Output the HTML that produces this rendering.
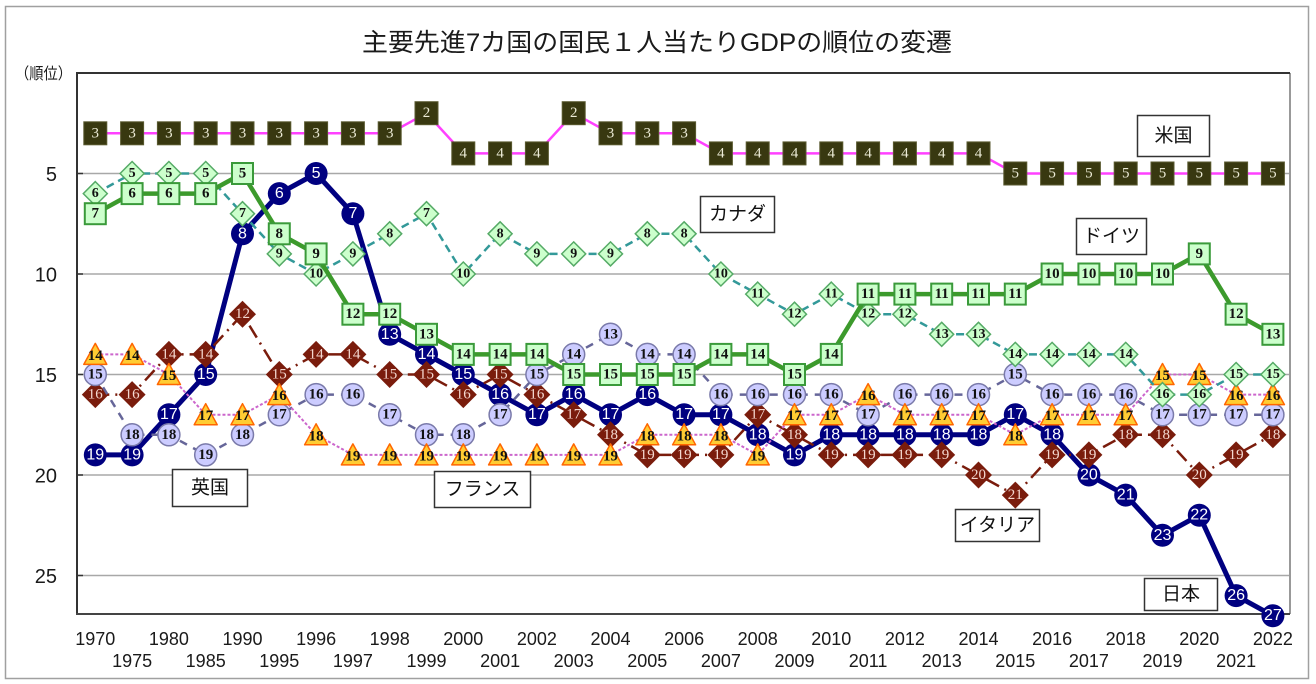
<!DOCTYPE html>
<html><head><meta charset="utf-8">
<style>
html,body{margin:0;padding:0;background:#fff;}
svg{display:block;}
.ax text{font-family:"Liberation Sans",sans-serif;fill:#1a1a1a;}
.jp text{font:16px "Liberation Sans",sans-serif;fill:#fff;text-anchor:middle;dominant-baseline:central;}
.it text{font:15px "Liberation Serif",serif;fill:#f4d8d0;text-anchor:middle;dominant-baseline:central;}
.uk text{font:bold 15px "Liberation Serif",serif;fill:#111;text-anchor:middle;dominant-baseline:central;}
.fr text{font:bold 15px "Liberation Serif",serif;fill:#111;text-anchor:middle;dominant-baseline:central;}
.ca text{font:bold 14px "Liberation Serif",serif;fill:#111;text-anchor:middle;dominant-baseline:central;}
.de text{font:bold 15px "Liberation Serif",serif;fill:#111;text-anchor:middle;dominant-baseline:central;}
.us text{font:15px "Liberation Serif",serif;fill:#ecebd6;text-anchor:middle;dominant-baseline:central;}
.lb text{font:19px "Liberation Sans","Noto Sans CJK JP",sans-serif;fill:#111;text-anchor:middle;dominant-baseline:central;}
</style></head>
<body>
<svg width="1316" height="684" viewBox="0 0 1316 684" xmlns="http://www.w3.org/2000/svg">
<defs>
<rect id="mus" x="-11.5" y="-11.5" width="23" height="23" fill="#383810" stroke="#5a5a30" stroke-width="1"/>
<rect id="mde" x="-10.5" y="-10.5" width="21" height="21" fill="#ccffcc" stroke="#3a9a3a" stroke-width="2"/>
<polygon id="mca" points="0,-12 12,0 0,12 -12,0" fill="#ccffcc" stroke="#55aa66" stroke-width="1.5"/>
<circle id="mjp" r="11.5" fill="#000080"/>
<circle id="muk" r="11" fill="#ccccff" stroke="#7a7aaa" stroke-width="1.5"/>
<polygon id="mfr" points="0,-11 11.5,10 -11.5,10" fill="#ffcc33" stroke="#ff6600" stroke-width="1.5" stroke-linejoin="round"/>
<polygon id="mit" points="0,-13.5 13.5,0 0,13.5 -13.5,0" fill="#7a1c0c"/>
</defs>

<rect x="5.5" y="6.5" width="1303" height="672" fill="#fff" stroke="#a0a0a0" stroke-width="1.5"/>

<text x="657" y="51" text-anchor="middle" textLength="590" lengthAdjust="spacingAndGlyphs" style="font:25px 'Liberation Sans','Noto Sans CJK JP',sans-serif;fill:#1a1a1a">主要先進7カ国の国民１人当たりGDPの順位の変遷</text>
<text x="15" y="79" textLength="57" lengthAdjust="spacingAndGlyphs" style="font:16px 'Liberation Sans','Noto Sans CJK JP',sans-serif;fill:#1a1a1a">（順位）</text>

<!-- grid -->
<g stroke="#a8a8a8" stroke-width="1.5">
<line x1="77" y1="173.5" x2="1290" y2="173.5"/>
<line x1="77" y1="274" x2="1290" y2="274"/>
<line x1="77" y1="374.5" x2="1290" y2="374.5"/>
<line x1="77" y1="475" x2="1290" y2="475"/>
<line x1="77" y1="575.5" x2="1290" y2="575.5"/>
</g>
<g stroke="#333" stroke-width="1.5">
<line x1="77" y1="173.5" x2="83" y2="173.5"/>
<line x1="77" y1="274" x2="83" y2="274"/>
<line x1="77" y1="374.5" x2="83" y2="374.5"/>
<line x1="77" y1="475" x2="83" y2="475"/>
<line x1="77" y1="575.5" x2="83" y2="575.5"/>
</g>
<line x1="1290" y1="73" x2="1290" y2="614" stroke="#999" stroke-width="2"/>
<line x1="76" y1="73" x2="1290" y2="73" stroke="#333" stroke-width="2"/>
<line x1="77" y1="72" x2="77" y2="615" stroke="#333" stroke-width="2"/>
<line x1="76" y1="614" x2="1290" y2="614" stroke="#444" stroke-width="2"/>

<!-- axis labels -->
<g class="ax" font-size="20" text-anchor="end">
<text x="57" y="181">5</text>
<text x="57" y="281.5">10</text>
<text x="57" y="382">15</text>
<text x="57" y="482.5">20</text>
<text x="57" y="583">25</text>
</g>
<g class="ax" font-size="18" text-anchor="middle">
<text x="95.3" y="645">1970</text>
<text x="132.1" y="667">1975</text>
<text x="168.9" y="645">1980</text>
<text x="205.7" y="667">1985</text>
<text x="242.5" y="645">1990</text>
<text x="279.3" y="667">1995</text>
<text x="316.1" y="645">1996</text>
<text x="352.9" y="667">1997</text>
<text x="389.7" y="645">1998</text>
<text x="426.5" y="667">1999</text>
<text x="463.3" y="645">2000</text>
<text x="500.1" y="667">2001</text>
<text x="536.9" y="645">2002</text>
<text x="573.7" y="667">2003</text>
<text x="610.5" y="645">2004</text>
<text x="647.3" y="667">2005</text>
<text x="684.1" y="645">2006</text>
<text x="720.9" y="667">2007</text>
<text x="757.7" y="645">2008</text>
<text x="794.5" y="667">2009</text>
<text x="831.3" y="645">2010</text>
<text x="868.1" y="667">2011</text>
<text x="904.9" y="645">2012</text>
<text x="941.7" y="667">2013</text>
<text x="978.5" y="645">2014</text>
<text x="1015.3" y="667">2015</text>
<text x="1052.1" y="645">2016</text>
<text x="1088.9" y="667">2017</text>
<text x="1125.7" y="645">2018</text>
<text x="1162.5" y="667">2019</text>
<text x="1199.3" y="645">2020</text>
<text x="1236.1" y="667">2021</text>
<text x="1272.9" y="645">2022</text>
</g>

<!-- JAPAN -->
<polyline fill="none" stroke="#000080" stroke-width="5" stroke-linejoin="round" points="95.3,454.9 132.1,454.9 168.9,414.7 205.7,374.5 242.5,233.8 279.3,193.6 316.1,173.5 352.9,213.7 389.7,334.3 426.5,354.4 463.3,374.5 500.1,394.6 536.9,414.7 573.7,394.6 610.5,414.7 647.3,394.6 684.1,414.7 720.9,414.7 757.7,434.8 794.5,454.9 831.3,434.8 868.1,434.8 904.9,434.8 941.7,434.8 978.5,434.8 1015.3,414.7 1052.1,434.8 1088.9,475 1125.7,495.1 1162.5,535.3 1199.3,515.2 1236.1,595.6 1272.9,615.7"/>
<g class="jp">
<use href="#mjp" x="95.3" y="454.9"/><use href="#mjp" x="132.1" y="454.9"/><use href="#mjp" x="168.9" y="414.7"/><use href="#mjp" x="205.7" y="374.5"/><use href="#mjp" x="242.5" y="233.8"/><use href="#mjp" x="279.3" y="193.6"/><use href="#mjp" x="316.1" y="173.5"/><use href="#mjp" x="352.9" y="213.7"/><use href="#mjp" x="389.7" y="334.3"/><use href="#mjp" x="426.5" y="354.4"/><use href="#mjp" x="463.3" y="374.5"/><use href="#mjp" x="500.1" y="394.6"/><use href="#mjp" x="536.9" y="414.7"/><use href="#mjp" x="573.7" y="394.6"/><use href="#mjp" x="610.5" y="414.7"/><use href="#mjp" x="647.3" y="394.6"/><use href="#mjp" x="684.1" y="414.7"/><use href="#mjp" x="720.9" y="414.7"/><use href="#mjp" x="757.7" y="434.8"/><use href="#mjp" x="794.5" y="454.9"/><use href="#mjp" x="831.3" y="434.8"/><use href="#mjp" x="868.1" y="434.8"/><use href="#mjp" x="904.9" y="434.8"/><use href="#mjp" x="941.7" y="434.8"/><use href="#mjp" x="978.5" y="434.8"/><use href="#mjp" x="1015.3" y="414.7"/><use href="#mjp" x="1052.1" y="434.8"/><use href="#mjp" x="1088.9" y="475"/><use href="#mjp" x="1125.7" y="495.1"/><use href="#mjp" x="1162.5" y="535.3"/><use href="#mjp" x="1199.3" y="515.2"/><use href="#mjp" x="1236.1" y="595.6"/><use href="#mjp" x="1272.9" y="615.7"/>
<text x="95.3" y="454.9">19</text><text x="132.1" y="454.9">19</text><text x="168.9" y="414.7">17</text><text x="205.7" y="374.5">15</text><text x="242.5" y="233.8">8</text><text x="279.3" y="193.6">6</text><text x="316.1" y="173.5">5</text><text x="352.9" y="213.7">7</text><text x="389.7" y="334.3">13</text><text x="426.5" y="354.4">14</text><text x="463.3" y="374.5">15</text><text x="500.1" y="394.6">16</text><text x="536.9" y="414.7">17</text><text x="573.7" y="394.6">16</text><text x="610.5" y="414.7">17</text><text x="647.3" y="394.6">16</text><text x="684.1" y="414.7">17</text><text x="720.9" y="414.7">17</text><text x="757.7" y="434.8">18</text><text x="794.5" y="454.9">19</text><text x="831.3" y="434.8">18</text><text x="868.1" y="434.8">18</text><text x="904.9" y="434.8">18</text><text x="941.7" y="434.8">18</text><text x="978.5" y="434.8">18</text><text x="1015.3" y="414.7">17</text><text x="1052.1" y="434.8">18</text><text x="1088.9" y="475">20</text><text x="1125.7" y="495.1">21</text><text x="1162.5" y="535.3">23</text><text x="1199.3" y="515.2">22</text><text x="1236.1" y="595.6">26</text><text x="1272.9" y="615.7">27</text>
</g>

<!-- ITALY -->
<polyline fill="none" stroke="#7a1c0c" stroke-width="2.5" stroke-dasharray="14 6 2 6" points="95.3,394.6 132.1,394.6 168.9,354.4 205.7,354.4 242.5,314.2 279.3,374.5 316.1,354.4 352.9,354.4 389.7,374.5 426.5,374.5 463.3,394.6 500.1,374.5 536.9,394.6 573.7,414.7 610.5,434.8 647.3,454.9 684.1,454.9 720.9,454.9 757.7,414.7 794.5,434.8 831.3,454.9 868.1,454.9 904.9,454.9 941.7,454.9 978.5,475 1015.3,495.1 1052.1,454.9 1088.9,454.9 1125.7,434.8 1162.5,434.8 1199.3,475 1236.1,454.9 1272.9,434.8"/>
<g class="it">
<use href="#mit" x="95.3" y="394.6"/><use href="#mit" x="132.1" y="394.6"/><use href="#mit" x="168.9" y="354.4"/><use href="#mit" x="205.7" y="354.4"/><use href="#mit" x="242.5" y="314.2"/><use href="#mit" x="279.3" y="374.5"/><use href="#mit" x="316.1" y="354.4"/><use href="#mit" x="352.9" y="354.4"/><use href="#mit" x="389.7" y="374.5"/><use href="#mit" x="426.5" y="374.5"/><use href="#mit" x="463.3" y="394.6"/><use href="#mit" x="500.1" y="374.5"/><use href="#mit" x="536.9" y="394.6"/><use href="#mit" x="573.7" y="414.7"/><use href="#mit" x="610.5" y="434.8"/><use href="#mit" x="647.3" y="454.9"/><use href="#mit" x="684.1" y="454.9"/><use href="#mit" x="720.9" y="454.9"/><use href="#mit" x="757.7" y="414.7"/><use href="#mit" x="794.5" y="434.8"/><use href="#mit" x="831.3" y="454.9"/><use href="#mit" x="868.1" y="454.9"/><use href="#mit" x="904.9" y="454.9"/><use href="#mit" x="941.7" y="454.9"/><use href="#mit" x="978.5" y="475"/><use href="#mit" x="1015.3" y="495.1"/><use href="#mit" x="1052.1" y="454.9"/><use href="#mit" x="1088.9" y="454.9"/><use href="#mit" x="1125.7" y="434.8"/><use href="#mit" x="1162.5" y="434.8"/><use href="#mit" x="1199.3" y="475"/><use href="#mit" x="1236.1" y="454.9"/><use href="#mit" x="1272.9" y="434.8"/>
<text x="95.3" y="394.6">16</text><text x="132.1" y="394.6">16</text><text x="168.9" y="354.4">14</text><text x="205.7" y="354.4">14</text><text x="242.5" y="314.2">12</text><text x="279.3" y="374.5">15</text><text x="316.1" y="354.4">14</text><text x="352.9" y="354.4">14</text><text x="389.7" y="374.5">15</text><text x="426.5" y="374.5">15</text><text x="463.3" y="394.6">16</text><text x="500.1" y="374.5">15</text><text x="536.9" y="394.6">16</text><text x="573.7" y="414.7">17</text><text x="610.5" y="434.8">18</text><text x="647.3" y="454.9">19</text><text x="684.1" y="454.9">19</text><text x="720.9" y="454.9">19</text><text x="757.7" y="414.7">17</text><text x="794.5" y="434.8">18</text><text x="831.3" y="454.9">19</text><text x="868.1" y="454.9">19</text><text x="904.9" y="454.9">19</text><text x="941.7" y="454.9">19</text><text x="978.5" y="475">20</text><text x="1015.3" y="495.1">21</text><text x="1052.1" y="454.9">19</text><text x="1088.9" y="454.9">19</text><text x="1125.7" y="434.8">18</text><text x="1162.5" y="434.8">18</text><text x="1199.3" y="475">20</text><text x="1236.1" y="454.9">19</text><text x="1272.9" y="434.8">18</text>
</g>

<!-- UK -->
<polyline fill="none" stroke="#666699" stroke-width="2.5" stroke-dasharray="8 7" points="95.3,374.5 132.1,434.8 168.9,434.8 205.7,454.9 242.5,434.8 279.3,414.7 316.1,394.6 352.9,394.6 389.7,414.7 426.5,434.8 463.3,434.8 500.1,414.7 536.9,374.5 573.7,354.4 610.5,334.3 647.3,354.4 684.1,354.4 720.9,394.6 757.7,394.6 794.5,394.6 831.3,394.6 868.1,414.7 904.9,394.6 941.7,394.6 978.5,394.6 1015.3,374.5 1052.1,394.6 1088.9,394.6 1125.7,394.6 1162.5,414.7 1199.3,414.7 1236.1,414.7 1272.9,414.7"/>
<g class="uk">
<use href="#muk" x="95.3" y="374.5"/><use href="#muk" x="132.1" y="434.8"/><use href="#muk" x="168.9" y="434.8"/><use href="#muk" x="205.7" y="454.9"/><use href="#muk" x="242.5" y="434.8"/><use href="#muk" x="279.3" y="414.7"/><use href="#muk" x="316.1" y="394.6"/><use href="#muk" x="352.9" y="394.6"/><use href="#muk" x="389.7" y="414.7"/><use href="#muk" x="426.5" y="434.8"/><use href="#muk" x="463.3" y="434.8"/><use href="#muk" x="500.1" y="414.7"/><use href="#muk" x="536.9" y="374.5"/><use href="#muk" x="573.7" y="354.4"/><use href="#muk" x="610.5" y="334.3"/><use href="#muk" x="647.3" y="354.4"/><use href="#muk" x="684.1" y="354.4"/><use href="#muk" x="720.9" y="394.6"/><use href="#muk" x="757.7" y="394.6"/><use href="#muk" x="794.5" y="394.6"/><use href="#muk" x="831.3" y="394.6"/><use href="#muk" x="868.1" y="414.7"/><use href="#muk" x="904.9" y="394.6"/><use href="#muk" x="941.7" y="394.6"/><use href="#muk" x="978.5" y="394.6"/><use href="#muk" x="1015.3" y="374.5"/><use href="#muk" x="1052.1" y="394.6"/><use href="#muk" x="1088.9" y="394.6"/><use href="#muk" x="1125.7" y="394.6"/><use href="#muk" x="1162.5" y="414.7"/><use href="#muk" x="1199.3" y="414.7"/><use href="#muk" x="1236.1" y="414.7"/><use href="#muk" x="1272.9" y="414.7"/>
<text x="95.3" y="374.5">15</text><text x="132.1" y="434.8">18</text><text x="168.9" y="434.8">18</text><text x="205.7" y="454.9">19</text><text x="242.5" y="434.8">18</text><text x="279.3" y="414.7">17</text><text x="316.1" y="394.6">16</text><text x="352.9" y="394.6">16</text><text x="389.7" y="414.7">17</text><text x="426.5" y="434.8">18</text><text x="463.3" y="434.8">18</text><text x="500.1" y="414.7">17</text><text x="536.9" y="374.5">15</text><text x="573.7" y="354.4">14</text><text x="610.5" y="334.3">13</text><text x="647.3" y="354.4">14</text><text x="684.1" y="354.4">14</text><text x="720.9" y="394.6">16</text><text x="757.7" y="394.6">16</text><text x="794.5" y="394.6">16</text><text x="831.3" y="394.6">16</text><text x="868.1" y="414.7">17</text><text x="904.9" y="394.6">16</text><text x="941.7" y="394.6">16</text><text x="978.5" y="394.6">16</text><text x="1015.3" y="374.5">15</text><text x="1052.1" y="394.6">16</text><text x="1088.9" y="394.6">16</text><text x="1125.7" y="394.6">16</text><text x="1162.5" y="414.7">17</text><text x="1199.3" y="414.7">17</text><text x="1236.1" y="414.7">17</text><text x="1272.9" y="414.7">17</text>
</g>

<!-- FRANCE -->
<polyline fill="none" stroke="#cc66cc" stroke-width="2" stroke-dasharray="3 2" points="95.3,354.4 132.1,354.4 168.9,374.5 205.7,414.7 242.5,414.7 279.3,394.6 316.1,434.8 352.9,454.9 389.7,454.9 426.5,454.9 463.3,454.9 500.1,454.9 536.9,454.9 573.7,454.9 610.5,454.9 647.3,434.8 684.1,434.8 720.9,434.8 757.7,454.9 794.5,414.7 831.3,414.7 868.1,394.6 904.9,414.7 941.7,414.7 978.5,414.7 1015.3,434.8 1052.1,414.7 1088.9,414.7 1125.7,414.7 1162.5,374.5 1199.3,374.5 1236.1,394.6 1272.9,394.6"/>
<g class="fr">
<use href="#mfr" x="95.3" y="354.4"/><use href="#mfr" x="132.1" y="354.4"/><use href="#mfr" x="168.9" y="374.5"/><use href="#mfr" x="205.7" y="414.7"/><use href="#mfr" x="242.5" y="414.7"/><use href="#mfr" x="279.3" y="394.6"/><use href="#mfr" x="316.1" y="434.8"/><use href="#mfr" x="352.9" y="454.9"/><use href="#mfr" x="389.7" y="454.9"/><use href="#mfr" x="426.5" y="454.9"/><use href="#mfr" x="463.3" y="454.9"/><use href="#mfr" x="500.1" y="454.9"/><use href="#mfr" x="536.9" y="454.9"/><use href="#mfr" x="573.7" y="454.9"/><use href="#mfr" x="610.5" y="454.9"/><use href="#mfr" x="647.3" y="434.8"/><use href="#mfr" x="684.1" y="434.8"/><use href="#mfr" x="720.9" y="434.8"/><use href="#mfr" x="757.7" y="454.9"/><use href="#mfr" x="794.5" y="414.7"/><use href="#mfr" x="831.3" y="414.7"/><use href="#mfr" x="868.1" y="394.6"/><use href="#mfr" x="904.9" y="414.7"/><use href="#mfr" x="941.7" y="414.7"/><use href="#mfr" x="978.5" y="414.7"/><use href="#mfr" x="1015.3" y="434.8"/><use href="#mfr" x="1052.1" y="414.7"/><use href="#mfr" x="1088.9" y="414.7"/><use href="#mfr" x="1125.7" y="414.7"/><use href="#mfr" x="1162.5" y="374.5"/><use href="#mfr" x="1199.3" y="374.5"/><use href="#mfr" x="1236.1" y="394.6"/><use href="#mfr" x="1272.9" y="394.6"/>
<text x="95.3" y="356">14</text><text x="132.1" y="356">14</text><text x="168.9" y="376">15</text><text x="205.7" y="416.2">17</text><text x="242.5" y="416.2">17</text><text x="279.3" y="396.1">16</text><text x="316.1" y="436.3">18</text><text x="352.9" y="456.4">19</text><text x="389.7" y="456.4">19</text><text x="426.5" y="456.4">19</text><text x="463.3" y="456.4">19</text><text x="500.1" y="456.4">19</text><text x="536.9" y="456.4">19</text><text x="573.7" y="456.4">19</text><text x="610.5" y="456.4">19</text><text x="647.3" y="436.3">18</text><text x="684.1" y="436.3">18</text><text x="720.9" y="436.3">18</text><text x="757.7" y="456.4">19</text><text x="794.5" y="416.2">17</text><text x="831.3" y="416.2">17</text><text x="868.1" y="396.1">16</text><text x="904.9" y="416.2">17</text><text x="941.7" y="416.2">17</text><text x="978.5" y="416.2">17</text><text x="1015.3" y="436.3">18</text><text x="1052.1" y="416.2">17</text><text x="1088.9" y="416.2">17</text><text x="1125.7" y="416.2">17</text><text x="1162.5" y="376">15</text><text x="1199.3" y="376">15</text><text x="1236.1" y="396.1">16</text><text x="1272.9" y="396.1">16</text>
</g>

<!-- CANADA -->
<polyline fill="none" stroke="#339999" stroke-width="2.5" stroke-dasharray="8 5" points="95.3,193.6 132.1,173.5 168.9,173.5 205.7,173.5 242.5,213.7 279.3,253.9 316.1,274 352.9,253.9 389.7,233.8 426.5,213.7 463.3,274 500.1,233.8 536.9,253.9 573.7,253.9 610.5,253.9 647.3,233.8 684.1,233.8 720.9,274 757.7,294.1 794.5,314.2 831.3,294.1 868.1,314.2 904.9,314.2 941.7,334.3 978.5,334.3 1015.3,354.4 1052.1,354.4 1088.9,354.4 1125.7,354.4 1162.5,394.6 1199.3,394.6 1236.1,374.5 1272.9,374.5"/>
<g class="ca">
<use href="#mca" x="95.3" y="193.6"/><use href="#mca" x="132.1" y="173.5"/><use href="#mca" x="168.9" y="173.5"/><use href="#mca" x="205.7" y="173.5"/><use href="#mca" x="242.5" y="213.7"/><use href="#mca" x="279.3" y="253.9"/><use href="#mca" x="316.1" y="274"/><use href="#mca" x="352.9" y="253.9"/><use href="#mca" x="389.7" y="233.8"/><use href="#mca" x="426.5" y="213.7"/><use href="#mca" x="463.3" y="274"/><use href="#mca" x="500.1" y="233.8"/><use href="#mca" x="536.9" y="253.9"/><use href="#mca" x="573.7" y="253.9"/><use href="#mca" x="610.5" y="253.9"/><use href="#mca" x="647.3" y="233.8"/><use href="#mca" x="684.1" y="233.8"/><use href="#mca" x="720.9" y="274"/><use href="#mca" x="757.7" y="294.1"/><use href="#mca" x="794.5" y="314.2"/><use href="#mca" x="831.3" y="294.1"/><use href="#mca" x="868.1" y="314.2"/><use href="#mca" x="904.9" y="314.2"/><use href="#mca" x="941.7" y="334.3"/><use href="#mca" x="978.5" y="334.3"/><use href="#mca" x="1015.3" y="354.4"/><use href="#mca" x="1052.1" y="354.4"/><use href="#mca" x="1088.9" y="354.4"/><use href="#mca" x="1125.7" y="354.4"/><use href="#mca" x="1162.5" y="394.6"/><use href="#mca" x="1199.3" y="394.6"/><use href="#mca" x="1236.1" y="374.5"/><use href="#mca" x="1272.9" y="374.5"/>
<text x="95.3" y="193.6">6</text><text x="132.1" y="173.5">5</text><text x="168.9" y="173.5">5</text><text x="205.7" y="173.5">5</text><text x="242.5" y="213.7">7</text><text x="279.3" y="253.9">9</text><text x="316.1" y="274">10</text><text x="352.9" y="253.9">9</text><text x="389.7" y="233.8">8</text><text x="426.5" y="213.7">7</text><text x="463.3" y="274">10</text><text x="500.1" y="233.8">8</text><text x="536.9" y="253.9">9</text><text x="573.7" y="253.9">9</text><text x="610.5" y="253.9">9</text><text x="647.3" y="233.8">8</text><text x="684.1" y="233.8">8</text><text x="720.9" y="274">10</text><text x="757.7" y="294.1">11</text><text x="794.5" y="314.2">12</text><text x="831.3" y="294.1">11</text><text x="868.1" y="314.2">12</text><text x="904.9" y="314.2">12</text><text x="941.7" y="334.3">13</text><text x="978.5" y="334.3">13</text><text x="1015.3" y="354.4">14</text><text x="1052.1" y="354.4">14</text><text x="1088.9" y="354.4">14</text><text x="1125.7" y="354.4">14</text><text x="1162.5" y="394.6">16</text><text x="1199.3" y="394.6">16</text><text x="1236.1" y="374.5">15</text><text x="1272.9" y="374.5">15</text>
</g>

<!-- GERMANY -->
<polyline fill="none" stroke="#3c9a2c" stroke-width="4.5" stroke-linejoin="round" points="95.3,213.7 132.1,193.6 168.9,193.6 205.7,193.6 242.5,173.5 279.3,233.8 316.1,253.9 352.9,314.2 389.7,314.2 426.5,334.3 463.3,354.4 500.1,354.4 536.9,354.4 573.7,374.5 610.5,374.5 647.3,374.5 684.1,374.5 720.9,354.4 757.7,354.4 794.5,374.5 831.3,354.4 868.1,294.1 904.9,294.1 941.7,294.1 978.5,294.1 1015.3,294.1 1052.1,274 1088.9,274 1125.7,274 1162.5,274 1199.3,253.9 1236.1,314.2 1272.9,334.3"/>
<g class="de">
<use href="#mde" x="95.3" y="213.7"/><use href="#mde" x="132.1" y="193.6"/><use href="#mde" x="168.9" y="193.6"/><use href="#mde" x="205.7" y="193.6"/><use href="#mde" x="242.5" y="173.5"/><use href="#mde" x="279.3" y="233.8"/><use href="#mde" x="316.1" y="253.9"/><use href="#mde" x="352.9" y="314.2"/><use href="#mde" x="389.7" y="314.2"/><use href="#mde" x="426.5" y="334.3"/><use href="#mde" x="463.3" y="354.4"/><use href="#mde" x="500.1" y="354.4"/><use href="#mde" x="536.9" y="354.4"/><use href="#mde" x="573.7" y="374.5"/><use href="#mde" x="610.5" y="374.5"/><use href="#mde" x="647.3" y="374.5"/><use href="#mde" x="684.1" y="374.5"/><use href="#mde" x="720.9" y="354.4"/><use href="#mde" x="757.7" y="354.4"/><use href="#mde" x="794.5" y="374.5"/><use href="#mde" x="831.3" y="354.4"/><use href="#mde" x="868.1" y="294.1"/><use href="#mde" x="904.9" y="294.1"/><use href="#mde" x="941.7" y="294.1"/><use href="#mde" x="978.5" y="294.1"/><use href="#mde" x="1015.3" y="294.1"/><use href="#mde" x="1052.1" y="274"/><use href="#mde" x="1088.9" y="274"/><use href="#mde" x="1125.7" y="274"/><use href="#mde" x="1162.5" y="274"/><use href="#mde" x="1199.3" y="253.9"/><use href="#mde" x="1236.1" y="314.2"/><use href="#mde" x="1272.9" y="334.3"/>
<text x="95.3" y="213.7">7</text><text x="132.1" y="193.6">6</text><text x="168.9" y="193.6">6</text><text x="205.7" y="193.6">6</text><text x="242.5" y="173.5">5</text><text x="279.3" y="233.8">8</text><text x="316.1" y="253.9">9</text><text x="352.9" y="314.2">12</text><text x="389.7" y="314.2">12</text><text x="426.5" y="334.3">13</text><text x="463.3" y="354.4">14</text><text x="500.1" y="354.4">14</text><text x="536.9" y="354.4">14</text><text x="573.7" y="374.5">15</text><text x="610.5" y="374.5">15</text><text x="647.3" y="374.5">15</text><text x="684.1" y="374.5">15</text><text x="720.9" y="354.4">14</text><text x="757.7" y="354.4">14</text><text x="794.5" y="374.5">15</text><text x="831.3" y="354.4">14</text><text x="868.1" y="294.1">11</text><text x="904.9" y="294.1">11</text><text x="941.7" y="294.1">11</text><text x="978.5" y="294.1">11</text><text x="1015.3" y="294.1">11</text><text x="1052.1" y="274">10</text><text x="1088.9" y="274">10</text><text x="1125.7" y="274">10</text><text x="1162.5" y="274">10</text><text x="1199.3" y="253.9">9</text><text x="1236.1" y="314.2">12</text><text x="1272.9" y="334.3">13</text>
</g>

<!-- USA -->
<polyline fill="none" stroke="#ff40ff" stroke-width="2.5" points="95.3,133.3 132.1,133.3 168.9,133.3 205.7,133.3 242.5,133.3 279.3,133.3 316.1,133.3 352.9,133.3 389.7,133.3 426.5,113.2 463.3,153.4 500.1,153.4 536.9,153.4 573.7,113.2 610.5,133.3 647.3,133.3 684.1,133.3 720.9,153.4 757.7,153.4 794.5,153.4 831.3,153.4 868.1,153.4 904.9,153.4 941.7,153.4 978.5,153.4 1015.3,173.5 1052.1,173.5 1088.9,173.5 1125.7,173.5 1162.5,173.5 1199.3,173.5 1236.1,173.5 1272.9,173.5"/>
<g class="us">
<use href="#mus" x="95.3" y="133.3"/><use href="#mus" x="132.1" y="133.3"/><use href="#mus" x="168.9" y="133.3"/><use href="#mus" x="205.7" y="133.3"/><use href="#mus" x="242.5" y="133.3"/><use href="#mus" x="279.3" y="133.3"/><use href="#mus" x="316.1" y="133.3"/><use href="#mus" x="352.9" y="133.3"/><use href="#mus" x="389.7" y="133.3"/><use href="#mus" x="426.5" y="113.2"/><use href="#mus" x="463.3" y="153.4"/><use href="#mus" x="500.1" y="153.4"/><use href="#mus" x="536.9" y="153.4"/><use href="#mus" x="573.7" y="113.2"/><use href="#mus" x="610.5" y="133.3"/><use href="#mus" x="647.3" y="133.3"/><use href="#mus" x="684.1" y="133.3"/><use href="#mus" x="720.9" y="153.4"/><use href="#mus" x="757.7" y="153.4"/><use href="#mus" x="794.5" y="153.4"/><use href="#mus" x="831.3" y="153.4"/><use href="#mus" x="868.1" y="153.4"/><use href="#mus" x="904.9" y="153.4"/><use href="#mus" x="941.7" y="153.4"/><use href="#mus" x="978.5" y="153.4"/><use href="#mus" x="1015.3" y="173.5"/><use href="#mus" x="1052.1" y="173.5"/><use href="#mus" x="1088.9" y="173.5"/><use href="#mus" x="1125.7" y="173.5"/><use href="#mus" x="1162.5" y="173.5"/><use href="#mus" x="1199.3" y="173.5"/><use href="#mus" x="1236.1" y="173.5"/><use href="#mus" x="1272.9" y="173.5"/>
<text x="95.3" y="133.3">3</text><text x="132.1" y="133.3">3</text><text x="168.9" y="133.3">3</text><text x="205.7" y="133.3">3</text><text x="242.5" y="133.3">3</text><text x="279.3" y="133.3">3</text><text x="316.1" y="133.3">3</text><text x="352.9" y="133.3">3</text><text x="389.7" y="133.3">3</text><text x="426.5" y="113.2">2</text><text x="463.3" y="153.4">4</text><text x="500.1" y="153.4">4</text><text x="536.9" y="153.4">4</text><text x="573.7" y="113.2">2</text><text x="610.5" y="133.3">3</text><text x="647.3" y="133.3">3</text><text x="684.1" y="133.3">3</text><text x="720.9" y="153.4">4</text><text x="757.7" y="153.4">4</text><text x="794.5" y="153.4">4</text><text x="831.3" y="153.4">4</text><text x="868.1" y="153.4">4</text><text x="904.9" y="153.4">4</text><text x="941.7" y="153.4">4</text><text x="978.5" y="153.4">4</text><text x="1015.3" y="173.5">5</text><text x="1052.1" y="173.5">5</text><text x="1088.9" y="173.5">5</text><text x="1125.7" y="173.5">5</text><text x="1162.5" y="173.5">5</text><text x="1199.3" y="173.5">5</text><text x="1236.1" y="173.5">5</text><text x="1272.9" y="173.5">5</text>
</g>

<!-- labels -->
<g class="lb">
<rect x="1137.5" y="115.5" width="72" height="41" fill="#fff" stroke="#333" stroke-width="1.5"/>
<text x="1173.5" y="136">米国</text>
<rect x="700.5" y="196.5" width="74" height="36" fill="#fff" stroke="#333" stroke-width="1.5"/>
<text x="737.5" y="214.5">カナダ</text>
<rect x="1076.5" y="218.5" width="70" height="36" fill="#fff" stroke="#333" stroke-width="1.5"/>
<text x="1111.5" y="236.5">ドイツ</text>
<rect x="172.5" y="469.5" width="75" height="37" fill="#fff" stroke="#333" stroke-width="1.5"/>
<text x="210" y="488">英国</text>
<rect x="434.5" y="471.5" width="96" height="36" fill="#fff" stroke="#333" stroke-width="1.5"/>
<text x="482.5" y="489.5">フランス</text>
<rect x="955.5" y="509.5" width="84" height="32" fill="#fff" stroke="#333" stroke-width="1.5"/>
<text x="997.5" y="525.5">イタリア</text>
<rect x="1144.5" y="578.5" width="73" height="32" fill="#fff" stroke="#333" stroke-width="1.5"/>
<text x="1181" y="594.5">日本</text>
</g>
</svg>
</body></html>
